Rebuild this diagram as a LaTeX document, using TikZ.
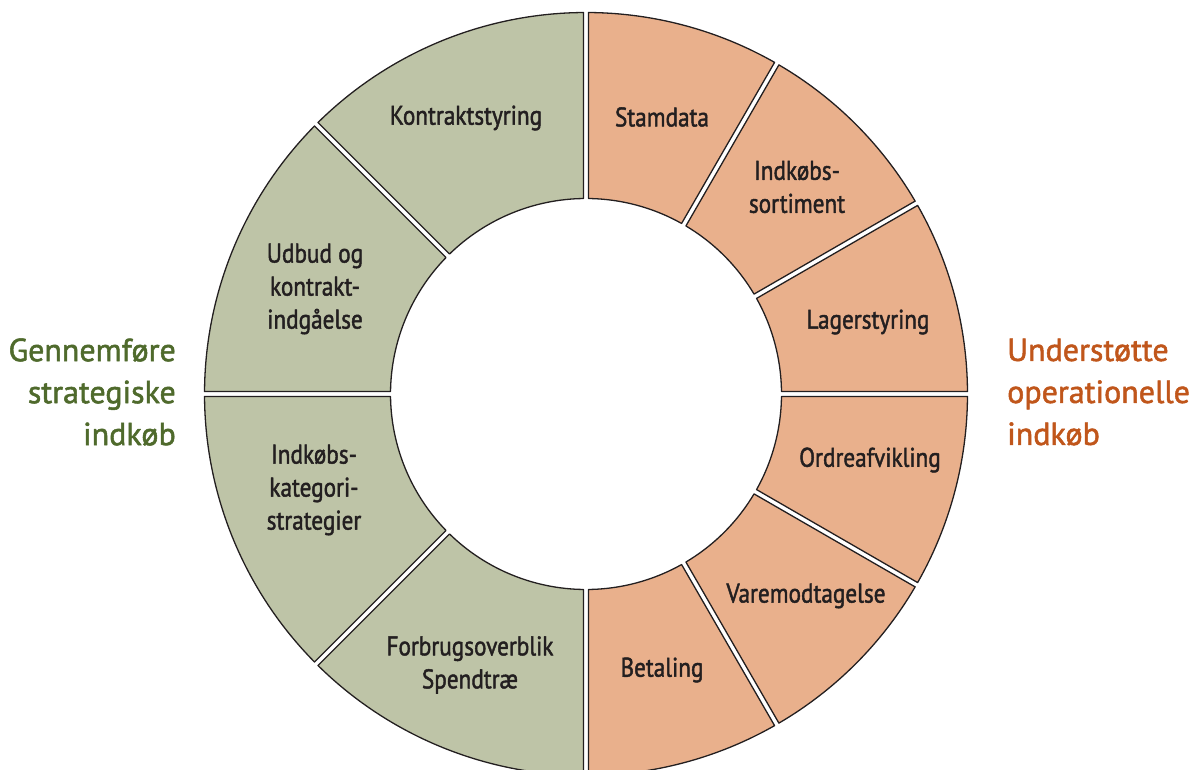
\documentclass[tikz,border=0pt]{standalone}
\usepackage{fontspec}
\setmainfont[FakeStretch=0.86, FakeBold=1.6]{PT Sans}
\newfontfamily\sidefont[FakeStretch=1.0, FakeBold=1.6]{PT Sans}
\definecolor{strat}{HTML}{BEC4A7}
\definecolor{oper}{HTML}{E9B08C}
\definecolor{strattxt}{HTML}{4F6A2C}
\definecolor{opertxt}{HTML}{C0561B}
\definecolor{ink}{HTML}{231F20}
\begin{document}
\begin{tikzpicture}[x=1pt, y=1pt, line join=round,
  part/.style={draw=ink, line width=1.3pt},
  parttext/.style={text=ink, align=center, font=\fontsize{27}{33}\selectfont},
  sidetext/.style={inner sep=0pt, font=\sidefont\fontsize{32}{42}\selectfont}]
  \useasboundingbox (0,0) rectangle (1198,769);
  \clip (0,0) rectangle (1198,769);
  % ring parts: start angle / end angle / colour
  \pgfmathsetmacro{\dR}{asin(2.5/381.5)}
  \pgfmathsetmacro{\dr}{asin(2.5/195.5)}
  \begin{scope}[shift={(586,375)}]
  \foreach \a/\b/\c in {90/135/strat, 135/180/strat, 180/225/strat, 225/270/strat,
                       60/90/oper, 30/60/oper, 0/30/oper, -30/0/oper, -60/-30/oper, -90/-60/oper}
    \draw[part, fill=\c] ({\a+\dR}:381.5)
      arc[start angle={\a+\dR}, end angle={\b-\dR}, radius=381.5]
      -- ({\b-\dr}:195.5)
      arc[start angle={\b-\dr}, end angle={\a+\dr}, radius=195.5]
      -- cycle;
  \end{scope}
  % left half
  \node[parttext] (kontrakt) at (466,651) {Kontraktstyring};
  \node[parttext] (udbud) at (315,480) {Udbud og\\kontrakt-\\indgåelse};
  \node[parttext] (kategori) at (314,279) {Indkøbs-\\kategori-\\strategier};
  \node[parttext] (forbrug) at (470,104) {Forbrugsoverblik\\Spendtræ};
  % right half
  \node[parttext] (stamdata) at (662,652) {Stamdata};
  \node[parttext] (sortiment) at (797,582) {Indkøbs-\\sortiment};
  \node[parttext] (lager) at (868,447) {Lagerstyring};
  \node[parttext] (ordre) at (870,309) {Ordreafvikling};
  \node[parttext] (varemodt) at (806,173) {Varemodtagelse};
  \node[parttext] (betaling) at (662,99) {Betaling};
  % side labels
  \node[sidetext, text=strattxt, anchor=east, align=right] (strategisk) at (176,377) {Gennemføre\\strategiske\\indkøb};
  \node[sidetext, text=opertxt, anchor=west, align=left] (operationel) at (1007,377) {Understøtte\\operationelle\\indkøb};
\end{tikzpicture}
\end{document}
